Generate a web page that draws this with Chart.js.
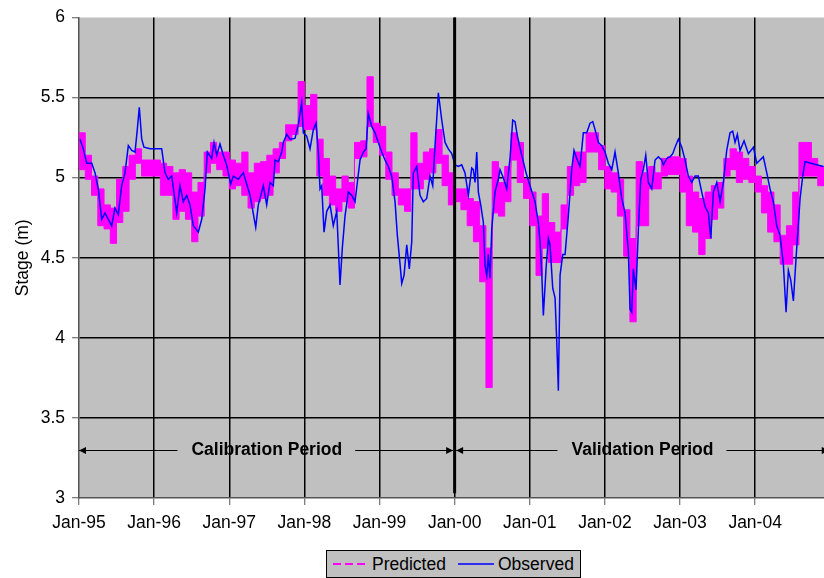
<!DOCTYPE html>
<html>
<head>
<meta charset="utf-8">
<script src="https://cdn.jsdelivr.net/npm/chart.js"></script>
<style>
  html, body { margin: 0; padding: 0; background: #fff; overflow: hidden; }
  #wrap { position: relative; width: 824px; height: 578px; }
  #legend {
    position: absolute; left: 326px; top: 550px; width: 253px; height: 26px;
    background: #c0c0c0; border: 1px solid #000;
    font: 17.5px "Liberation Sans", Arial, sans-serif; color: #000;
  }
  #legend span { position: absolute; top: 0; line-height: 26px; }
  #legend svg { position: absolute; top: 0; }
</style>
</head>
<body>
<div id="wrap">
  <canvas id="grafico" width="824" height="578"></canvas>
  <div id="legend">
    <svg style="left:5px" width="38" height="26"><line x1="1" y1="13" x2="37" y2="13" stroke="#ff00ff" stroke-width="2" stroke-dasharray="8,4"/></svg>
    <span style="left:45px">Predicted</span>
    <svg style="left:130px" width="38" height="26"><line x1="1" y1="13" x2="37" y2="13" stroke="#0000ff" stroke-width="1.5"/></svg>
    <span style="left:171px">Observed</span>
  </div>
</div>
<script>
// eixo x em meses desde Jan-95
const xTickMonths = [0, 12, 24, 36, 48, 60, 72, 84, 96, 108];
const xTickLabels = ['Jan-95', 'Jan-96', 'Jan-97', 'Jan-98', 'Jan-99', 'Jan-00', 'Jan-01', 'Jan-02', 'Jan-03', 'Jan-04'];

// Predicted: faixa mensal (máximo / mínimo), mês 0 = Jan-95
const predHigh = [
  5.28, 5.14, 5.01, 4.93, 4.83, 4.81, 4.99, 5.07, 5.14, 5.18, 5.11, 5.11,
  5.11, 5.09, 5.07, 5.03, 5.05, 5.03, 4.91, 4.97, 5.16, 5.22, 5.16, 5.16,
  5.11, 5.09, 5.16, 5.03, 5.09, 5.10, 5.14, 5.18, 5.22, 5.33, 5.33, 5.60,
  5.45, 5.52, 5.24, 5.12, 5.01, 4.93, 5.01, 4.97, 5.22, 5.23, 5.63, 5.34,
  5.32, 5.16, 5.03, 4.93, 4.93, 5.28, 5.09, 5.16, 5.18, 5.30, 5.14, 5.03,
  4.93, 4.93, 4.87, 4.85, 4.70, 4.56, 5.10, 4.97, 5.07, 5.28, 5.22, 4.99,
  4.91, 4.76, 4.90, 4.72, 4.66, 4.83, 5.07, 5.16, 5.16, 5.28, 5.28, 5.20,
  5.07, 5.03, 4.99, 4.80, 4.62, 5.10, 5.03, 5.07, 5.03, 5.12, 5.13, 5.13,
  5.12, 5.01, 4.91, 4.87, 4.91, 4.95, 4.97, 5.12, 5.18, 5.16, 5.12, 5.07,
  5.01, 4.95, 4.91, 4.83, 4.64, 4.70, 4.91, 5.22, 5.22, 5.12, 5.07, 5.07
];
const predLow = [
  5.05, 4.99, 4.89, 4.70, 4.68, 4.59, 4.72, 4.79, 4.99, 5.09, 5.01, 5.01,
  5.01, 4.89, 4.89, 4.74, 4.79, 4.74, 4.60, 4.76, 5.03, 5.09, 5.05, 5.01,
  4.93, 4.95, 4.89, 4.81, 4.85, 4.87, 4.89, 5.03, 5.12, 5.23, 5.27, 5.32,
  5.30, 5.30, 5.01, 4.89, 4.83, 4.79, 4.85, 4.81, 5.12, 5.13, 5.32, 5.22,
  5.14, 4.99, 4.89, 4.83, 4.79, 4.93, 4.93, 4.99, 5.03, 5.09, 4.95, 4.83,
  4.85, 4.80, 4.70, 4.60, 4.35, 3.69, 4.78, 4.76, 4.85, 5.11, 4.97, 4.87,
  4.70, 4.39, 4.56, 4.47, 4.47, 4.68, 4.89, 4.95, 4.97, 5.16, 5.16, 5.05,
  4.93, 4.91, 4.76, 4.51, 4.10, 4.70, 4.70, 4.93, 4.93, 5.01, 5.02, 5.02,
  4.91, 4.70, 4.66, 4.52, 4.62, 4.74, 4.81, 5.01, 5.05, 4.97, 4.99, 4.97,
  4.91, 4.78, 4.66, 4.60, 4.46, 4.46, 4.58, 5.01, 5.01, 5.01, 4.95, 4.95
];

// Observed: meses desde Jan-95 e cota (m)
const obsMonth = [
  0.16, 0.69, 1.23, 2.03, 2.56, 3.08, 3.63, 4.15, 4.68, 5.22, 5.75, 6.28, 6.82, 7.35, 7.88, 8.42, 8.95, 9.31, 9.63, 10.02,
  10.38, 11.34, 13.21, 13.74, 14.26, 14.81, 15.61, 16.13, 16.66, 17.2, 17.73, 18.26, 19.06, 19.6, 20.13, 20.5, 21.2, 21.57, 22.0, 22.52,
  23.05, 23.58, 24.23, 24.65, 25.45, 26.25, 27.32, 28.23, 28.64, 29.44, 29.98, 30.51, 31.04, 31.31, 31.84, 32.38, 32.64, 33.18, 33.71, 34.5,
  35.03, 35.57, 35.83, 36.37, 36.9, 37.43, 37.86, 38.23, 38.5, 38.77, 39.14, 39.57, 40.1, 40.62, 41.17, 41.69, 42.06, 42.49, 43.02, 43.56,
  44.09, 44.52, 44.89, 45.42, 45.85, 46.21, 46.76, 47.28, 47.81, 48.35, 48.88, 49.41, 49.95, 50.48, 50.85, 51.28, 51.55, 51.92, 52.35, 52.76,
  53.15, 53.4, 53.95, 54.47, 55.0, 55.54, 56.07, 56.5, 56.87, 57.4, 57.94, 58.47, 58.99, 59.54, 60.06, 60.59, 61.13, 61.66, 62.19, 62.73,
  62.99, 63.26, 63.53, 63.79, 64.17, 64.59, 64.86, 65.13, 65.38, 65.65, 65.93, 66.45, 66.98, 67.25, 67.78, 68.32, 68.85, 69.28, 69.65, 70.02,
  70.72, 71.41, 72.04, 72.84, 73.37, 73.64, 73.91, 74.17, 74.6, 74.97, 75.24, 75.67, 76.04, 76.31, 76.57, 76.84, 77.27, 77.64, 78.16, 78.7,
  79.07, 79.5, 80.03, 80.56, 81.1, 81.63, 82.06, 82.43, 82.96, 83.5, 84.03, 84.55, 85.1, 85.62, 86.15, 86.69, 87.22, 87.75, 88.02, 88.29,
  88.55, 88.98, 89.35, 89.73, 90.14, 90.53, 90.94, 91.49, 92.01, 92.54, 93.08, 93.34, 93.88, 94.41, 94.84, 95.21, 95.74, 96.28, 96.81, 97.33,
  97.87, 98.4, 98.93, 99.47, 100.0, 100.53, 100.91, 101.33, 101.87, 102.4, 102.92, 103.46, 103.99, 104.42, 104.79, 105.16, 105.59, 106.23, 106.92, 107.72,
  108.26, 108.79, 109.31, 109.86, 110.38, 110.91, 111.45, 111.98, 112.51, 112.94, 113.31, 113.69, 114.11, 114.54, 115.18, 115.6, 115.97, 118.9
];
const obsStage = [
  5.24, 5.18, 5.09, 5.09, 5.03, 4.93, 4.74, 4.78, 4.74, 4.70, 4.81, 4.77, 4.95, 5.03, 5.20, 5.17, 5.16, 5.30, 5.44, 5.24,
  5.19, 5.18, 5.18, 5.03, 4.99, 5.01, 4.78, 4.95, 4.85, 4.89, 4.83, 4.70, 4.66, 4.74, 4.93, 5.16, 5.12, 5.22, 5.14, 5.21,
  5.14, 5.08, 4.96, 5.01, 4.99, 5.03, 4.89, 4.69, 4.83, 4.95, 4.83, 4.97, 4.95, 5.11, 5.10, 5.16, 5.22, 5.27, 5.24, 5.245,
  5.33, 5.47, 5.28, 5.26, 5.18, 5.30, 5.34, 5.16, 4.93, 4.95, 4.66, 4.79, 4.83, 4.70, 4.79, 4.33, 4.56, 4.76, 4.91, 4.89,
  4.85, 4.99, 5.11, 5.16, 5.18, 5.40, 5.32, 5.28, 5.22, 5.16, 5.11, 5.07, 5.01, 4.85, 4.64, 4.46, 4.34, 4.39, 4.58, 4.43,
  4.60, 5.03, 5.07, 4.89, 4.85, 4.87, 5.01, 4.95, 5.20, 5.53, 5.36, 5.22, 5.18, 5.15, 5.08, 5.07, 5.08, 5.03, 4.89, 5.06,
  5.05, 4.97, 5.16, 4.91, 4.83, 4.72, 4.45, 4.39, 4.52, 4.37, 4.68, 4.91, 4.99, 5.05, 5.00, 4.93, 5.12, 5.36, 5.35, 5.26,
  5.14, 5.03, 4.95, 4.85, 4.72, 4.60, 4.41, 4.14, 4.43, 4.62, 4.58, 4.31, 4.25, 3.98, 3.67, 4.39, 4.52, 4.52, 4.76, 5.05,
  5.17, 5.12, 5.07, 5.28, 5.28, 5.34, 5.35, 5.30, 5.22, 5.20, 5.16, 5.09, 5.05, 5.16, 5.03, 4.87, 4.78, 4.54, 4.18, 4.16,
  4.43, 4.30, 4.68, 4.99, 5.05, 5.14, 4.97, 4.93, 5.11, 5.13, 5.11, 5.08, 5.12, 5.13, 5.15, 5.19, 5.24, 5.19, 5.11, 5.01,
  4.97, 5.01, 5.01, 4.91, 4.82, 4.78, 4.62, 4.91, 4.97, 4.85, 4.97, 5.17, 5.28, 5.29, 5.22, 5.27, 5.17, 5.23, 5.15, 5.19,
  5.09, 5.11, 5.13, 5.03, 4.93, 4.85, 4.70, 4.64, 4.46, 4.16, 4.42, 4.36, 4.23, 4.50, 4.87, 5.01, 5.10, 5.07
];

// períodos marcados com setas
const periods = [
  { label: 'Calibration Period', from: 0, to: 60 },
  { label: 'Validation Period', from: 60, to: 120 }
];
const arrowStage = 3.3;
const splitMonth = 60;

Chart.defaults.font.family = '"Liberation Sans", Arial, sans-serif';
Chart.defaults.font.size = 17.5;
Chart.defaults.color = '#000';

const fundoCinza = {
  id: 'fundoCinza',
  beforeDraw(chart) {
    const { ctx, chartArea: a } = chart;
    ctx.save();
    ctx.fillStyle = '#c0c0c0';
    ctx.fillRect(a.left, a.top, a.right - a.left, a.bottom - a.top);
    ctx.restore();
  }
};

function ponta(ctx, x, y, dir) {
  ctx.beginPath();
  ctx.moveTo(x, y);
  ctx.lineTo(x - dir * 7, y - 3.5);
  ctx.lineTo(x - dir * 7, y + 3.5);
  ctx.closePath();
  ctx.fill();
}

const periodos = {
  id: 'periodos',
  afterDatasetsDraw(chart) {
    const { ctx, scales: { x, y } } = chart;
    ctx.save();
    // linha divisória Jan-00
    const xs = x.getPixelForValue(splitMonth);
    ctx.strokeStyle = '#000';
    ctx.lineWidth = 3;
    ctx.beginPath();
    ctx.moveTo(xs, y.getPixelForValue(6));
    ctx.lineTo(xs, y.getPixelForValue(3.03));
    ctx.stroke();

    const ya = Math.round(y.getPixelForValue(arrowStage)) + 0.5;
    ctx.font = 'bold 17.5px "Liberation Sans", Arial, sans-serif';
    ctx.textAlign = 'center';
    ctx.textBaseline = 'middle';
    ctx.fillStyle = '#000';
    ctx.lineWidth = 1;
    periods.forEach((p) => {
      const x0 = x.getPixelForValue(p.from) + (p.from === 0 ? 0 : 1.5);
      const x1 = x.getPixelForValue(p.to) - 1.5;
      const xc = x.getPixelForValue((p.from + p.to) / 2);
      const w = ctx.measureText(p.label).width;
      ctx.beginPath();
      ctx.moveTo(x0, ya); ctx.lineTo(xc - w / 2 - 14, ya);
      ctx.moveTo(xc + w / 2 + 13, ya); ctx.lineTo(x1, ya);
      ctx.stroke();
      ponta(ctx, x0, ya, -1);
      ponta(ctx, x1, ya, 1);
      ctx.fillText(p.label, xc, ya);
    });
    ctx.restore();
  }
};

new Chart(document.getElementById('grafico'), {
  type: 'line',
  data: {
    datasets: [{
      label: 'Observed',
      data: obsMonth.map((m, i) => ({ x: m, y: obsStage[i] })),
      borderColor: '#0000ff',
      borderWidth: 1.5,
      pointRadius: 0,
      fill: false
    }, {
      label: 'Predicted',
      data: predHigh.map((v, i) => ({ x: i, y: v })),
      borderColor: '#ff00ff',
      backgroundColor: '#ff00ff',
      borderWidth: 1,
      pointRadius: 0,
      stepped: true,
      fill: '+1'
    }, {
      label: 'Predicted (min)',
      data: predLow.map((v, i) => ({ x: i, y: v })),
      borderColor: '#ff00ff',
      borderWidth: 1,
      pointRadius: 0,
      stepped: true,
      fill: false
    }]
  },
  options: {
    responsive: false,
    animation: false,
    devicePixelRatio: 1,
    layout: { padding: { top: 14, right: 0, left: 0, bottom: 0 } },
    plugins: { legend: { display: false }, tooltip: { enabled: false } },
    scales: {
      x: {
        type: 'linear',
        min: 0,
        max: 119,
        afterBuildTicks: (s) => { s.ticks = xTickMonths.map((v) => ({ value: v })); },
        afterFit: (s) => { s.height = 80; },
        ticks: {
          autoSkip: false,
          maxRotation: 0,
          padding: 8,
          callback: (v, i) => xTickLabels[i]
        },
        grid: {
          color: (c) => (c.tick && c.tick.value === 0 ? 'rgba(0,0,0,0)' : '#000'),
          lineWidth: 1.5,
          tickColor: '#555',
          tickLength: 7,
          tickWidth: 1
        },
        border: { color: '#555', width: 1.5 }
      },
      y: {
        min: 3,
        max: 6,
        afterFit: (s) => { s.width = 79; },
        ticks: { stepSize: 0.5, padding: 7, callback: (v) => String(v) },
        grid: {
          color: (c) => (c.tick && (c.tick.value === 3 || c.tick.value === 6) ? 'rgba(0,0,0,0)' : '#000'),
          lineWidth: 1.5,
          tickColor: '#555',
          tickLength: 7,
          tickWidth: 1
        },
        border: { color: '#555', width: 1.5 },
        title: { display: true, text: 'Stage (m)', padding: { top: 13, bottom: 0 } }
      }
    }
  },
  plugins: [fundoCinza, periodos]
});
</script>
</body>
</html>
